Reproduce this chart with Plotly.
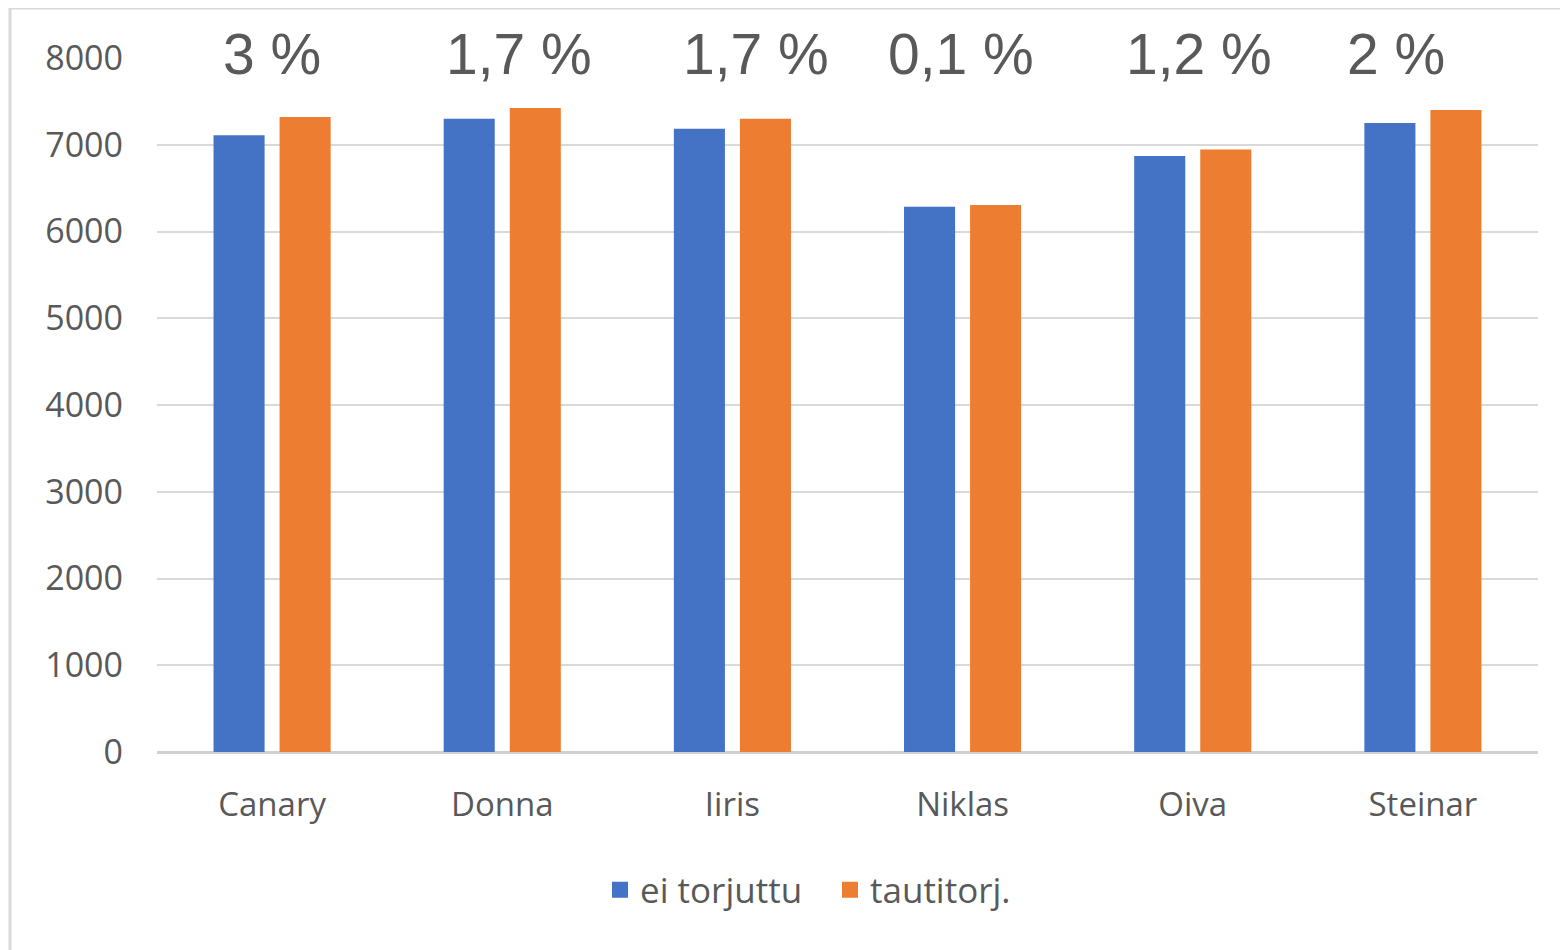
import plotly.graph_objects as go

categories = ["Canary", "Donna", "Iiris", "Niklas", "Oiva", "Steinar"]
ei_torjuttu = [7110, 7300, 7185, 6285, 6870, 7250]
tautitorj = [7320, 7425, 7300, 6305, 6945, 7400]
pct_labels = ["3 %", "1,7 %", "1,7 %", "0,1 %", "1,2 %", "2 %"]
label_shift = [0, 17, 24, -2, 6, -27]
y_ticks = [0, 1000, 2000, 3000, 4000, 5000, 6000, 7000, 8000]
series_names = ["ei torjuttu", "tautitorj."]
series_colors = ["#4472C4", "#ED7D31"]

OFF = 8  # page body margin
W, H = 1560, 942
L, R, T, B = 157 - OFF, 30, 58 - OFF, 198
pw, ph = W - L - R, H - T - B

def px_x(v):
    return (v - OFF - L) / pw

def px_y(v):
    return (H - B - (v - OFF)) / ph

fig = go.Figure()
for name, vals, col in zip(series_names, [ei_torjuttu, tautitorj], series_colors):
    fig.add_trace(go.Bar(x=categories, y=vals, name=name, showlegend=False,
                         marker=dict(color=col, line=dict(width=0))))
for name, col in zip(series_names, series_colors):
    fig.add_trace(go.Scatter(x=[None], y=[None], mode="markers", name=name,
                             marker=dict(symbol="square", size=27, color=col)))

for c, t, s in zip(categories, pct_labels, label_shift):
    fig.add_annotation(x=c, y=8000, xref="x", yref="y", text=t, showarrow=False,
                       xshift=s, yanchor="middle", yshift=4,
                       font=dict(family="Liberation Sans, Arial", size=57, color="#595959"))

fig.add_shape(type="rect", xref="paper", yref="paper",
              x0=px_x(10), x1=px_x(1590), y0=px_y(970), y1=px_y(8),
              line=dict(color="#d9d9d9", width=3), fillcolor="rgba(0,0,0,0)", layer="below")

fig.update_layout(
    width=W, height=H,
    margin=dict(l=L, r=R, t=T, b=B),
    paper_bgcolor="white", plot_bgcolor="white",
    barmode="group", bargap=0.426, bargroupgap=0.227,
    font=dict(family="Open Sans", color="#595959", size=33),
    legend=dict(orientation="h", x=px_x(830), y=px_y(890), xanchor="center", yanchor="middle",
                font=dict(size=35, color="#595959"), itemwidth=30, tracegroupgap=0,
                entrywidth=185),
    showlegend=True,
    xaxis=dict(showgrid=False, showline=False, ticks="", tickfont=dict(size=33, color="#595959"),
               ticklabelstandoff=30),
    yaxis=dict(range=[0, 8000], tickvals=y_ticks, showgrid=True, gridcolor="#d9d9d9", gridwidth=2,
               zeroline=True, zerolinecolor="#d0d0d0", zerolinewidth=3, showline=False,
               tickfont=dict(size=34, color="#595959"), ticks="", ticklabelstandoff=33),
)

fig.write_html("out.html")
